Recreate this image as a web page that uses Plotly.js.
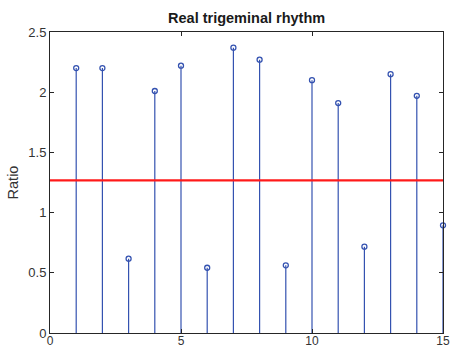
<!DOCTYPE html>
<html>
<head>
<meta charset="utf-8">
<script src="https://cdn.plot.ly/plotly-3.0.1.min.js"></script>
<style>
  html, body { margin: 0; padding: 0; background: #fff; }
  #chart { width: 450px; height: 350px; }
</style>
</head>
<body>
<div id="chart"></div>
<script>
// Beat index and RR ratio for each beat
const beats = [1, 2, 3, 4, 5, 6, 7, 8, 9, 10, 11, 12, 13, 14, 15];
const ratios = [2.20, 2.20, 0.617, 2.01, 2.22, 0.542, 2.37, 2.27, 0.562, 2.10, 1.91, 0.717, 2.15, 1.97, 0.894];
// Threshold level drawn across the whole range
const thresholdX = [0, 15];
const thresholdY = [1.268, 1.268];

const stemColor = '#3452b0';
const fontFamily = 'Liberation Sans, Arial, sans-serif';

// Stems: vertical segments from the baseline to each value, separated by gaps
const stemX = [], stemY = [];
beats.forEach((b, i) => {
  stemX.push(b, b, null);
  stemY.push(0, ratios[i], null);
});

const traces = [
  {
    x: stemX, y: stemY, type: 'scatter', mode: 'lines',
    line: { color: stemColor, width: 1.2 }, hoverinfo: 'skip', cliponaxis: false
  },
  {
    x: beats, y: ratios, type: 'scatter', mode: 'markers',
    marker: { symbol: 'circle-open', size: 5, color: stemColor, line: { width: 1.3, color: stemColor } },
    cliponaxis: false
  },
  {
    x: thresholdX, y: thresholdY, type: 'scatter', mode: 'lines',
    line: { color: '#ff1a1a', width: 2.2 }
  }
];

const axisCommon = {
  showline: true, linecolor: '#262626', linewidth: 1, mirror: 'ticks',
  ticks: 'inside', ticklen: 4, tickcolor: '#262626', tickwidth: 1,
  showgrid: false, zeroline: false,
  tickfont: { family: fontFamily, size: 13, color: '#333333' }
};

const layout = {
  width: 450, height: 350,
  margin: { l: 50, r: 7, t: 32, b: 17 },
  paper_bgcolor: '#ffffff', plot_bgcolor: '#ffffff',
  showlegend: false,
  title: {
    text: '<b>Real trigeminal rhythm</b>',
    font: { family: fontFamily, size: 14.5, color: '#1a1a1a' },
    x: 0.548, xanchor: 'center', y: 0.948, yanchor: 'middle'
  },
  xaxis: Object.assign({}, axisCommon, {
    range: [0, 15], tickvals: [0, 5, 10, 15], ticktext: ['0', '5', '10', '15'],
    tickfont: { family: fontFamily, size: 12, color: '#333333' },
    ticklabelstandoff: -3, ticklabeloverflow: 'allow'
  }),
  yaxis: Object.assign({}, axisCommon, {
    range: [0, 2.5], tickvals: [0, 0.5, 1, 1.5, 2, 2.5], ticktext: ['0', '0.5', '1', '1.5', '2', '2.5'],
    title: { text: 'Ratio', standoff: 6, font: { family: fontFamily, size: 14.5, color: '#333333' } }
  })
};

Plotly.newPlot('chart', traces, layout, { staticPlot: true, displayModeBar: false });
</script>
</body>
</html>
